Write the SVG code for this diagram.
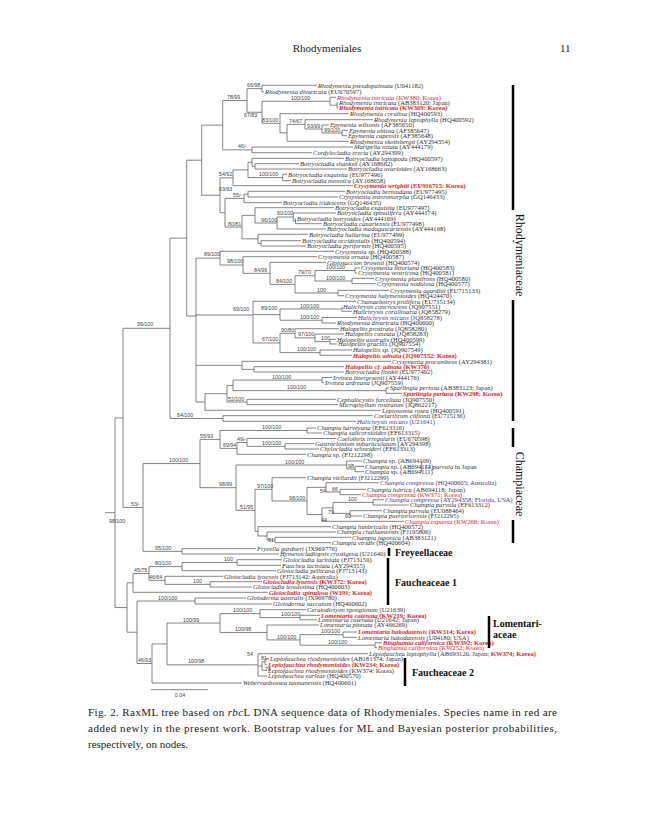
<svg xmlns="http://www.w3.org/2000/svg" width="646" height="830" viewBox="0 0 646 830">
<style>
.bg{fill:#fff}
.br{fill:none;stroke:#666;stroke-width:0.8}
.bar{stroke:#000;stroke-width:2.5}
.t{font-family:"Liberation Serif",serif;font-size:6.6px;font-style:italic;fill:#333}
.u{font-style:normal}
.r{fill:#e41e26}
.rb{fill:#e41e26;font-weight:bold}
.bl{fill:#3c3c9c}
.n{font-family:"Liberation Sans",sans-serif;font-size:5.3px;fill:#444}
.fam{font-family:"Liberation Serif",serif;font-weight:bold;font-size:10px;fill:#111}
.famv{font-family:"Liberation Serif",serif;font-size:12px;fill:#111}
.hd{font-family:"Liberation Serif",serif;font-size:11px;fill:#222}
.cap{font-family:"Liberation Serif",serif;font-size:11px;fill:#222}
</style>
<rect class="bg" x="0" y="0" width="646" height="830"/>
<g id="header">
<text class="hd" x="327" y="52" text-anchor="middle">Rhodymeniales</text>
<text class="hd" x="560" y="52" font-size="12">11</text>
</g>
<g id="connectors">
<path class="br" d="M262 85.3V92M262 85.3H317M262 92H264
M337 102.7V107.7M337 102.7H338M337 107.7H338
M330 97.3V105.2M330 97.3H336M330 105.2H337
M342 130.3V135.7M342 130.3H348M342 135.7H347
M322 125V133M322 125H329M322 133H342
M305 119.7V129M305 119.7H373M305 129H322
M287 124.35V141.3M287 124.35H305M287 141.3H349
M280 113.7V132.83M280 113.7H349M280 132.83H287
M262 101.25V123.27M262 101.25H330M262 123.27H280
M247 88.65V112.26M247 88.65H262M247 112.26H262
M252 147V152.7M252 147H353M252 152.7H312
M222.7 100.46V149.85M222.7 100.46H247M222.7 149.85H252
M255 163.7V169M255 163.7H299M255 169H347
M252 158.3V166.35M252 158.3H344M252 166.35H255
M282.7 174.3V180.7M282.7 174.3H287M282.7 180.7H291
M248 162.33V177.5M248 162.33H252M248 177.5H282.7
M233 169.9V185.7M233 169.9H248M233 185.7H353
M248 191.3V197M248 191.3H345M248 197H338
M244 194.15V202.7M244 194.15H248M244 202.7H282
M295.5 218.3V223.7M295.5 223.7H322
M293.3 213V221M293.3 213H336M293.3 221H295.5
M277 217V229M277 217H293.3M277 229H326
M255 207.7V223M255 207.7H334M255 223H277
M261 240.7V246M261 240.7H301M261 246H306
M258 234.3V243.35M258 234.3H308M258 243.35H261
M242 215.35V238.83M242 215.35H255M242 238.83H258
M225 198.4V227.09M225 198.4H244M225 227.09H242
M220 177.8V212.75M220 177.8H233M220 212.75H225
M201.7 125.15V195.28M201.7 125.15H222.7M201.7 195.28H220
M355 268V273M355 268H360M355 273H357
M352 278.3V283.7M352 278.3H374M352 283.7H376
M315 270.5V281M315 270.5H355M315 281H352
M338 290.3V295.7M338 290.3H389M338 295.7H344
M295 275.75V293M295 275.75H315M295 293H338
M270 262.3V284.38M270 262.3H326M270 284.38H295
M243 256.7V273.34M243 256.7H317M243 273.34H270
M220 251.3V265M220 251.3H334M220 265H243
M342 306.7V311.3M342 311.3H352
M322 317.5V323M322 317.5H357M322 323H336
M280 309V320.25M280 309H342M280 320.25H322
M253 301.3V342.96M253 301.3H356M253 314.63H280M253 342.96H280
M330 339.3V344M330 339.3H336M330 344H337
M315 334V341.65M315 334H344M315 341.65H330
M295 328.7V337.83M295 328.7H339M295 337.83H315
M320 350V355.3M320 350H352M320 355.3H352
M280 333.26V352.65M280 333.26H295M280 352.65H320
M254 366.7V372M254 366.7H344M254 372H344
M242 361.3V369.35M242 361.3H391M242 369.35H254
M322 377.5V382.7M322 377.5H332M322 382.7H324
M386 388V393.3M386 388H389M386 393.3H402
M233 380.1V390.65M233 380.1H322M233 390.65H386
M247 399.3V404.7M247 399.3H336M247 404.7H338
M227 385.38V402M227 385.38H233M227 402H247
M205 393.69V410.3M205 393.69H227M205 410.3H381
M196 258.15V402M196 258.15H220M196 315H253M196 365.33H242M196 402H205
M223 415.7V421.3M223 415.7H373M223 421.3H356
M186.7 160.2V316M186.7 160.2H201.7M186.7 316H196
M170 238.1V418.5M170 238.1H186.7M170 418.5H223
M307 428V433M307 428H316M307 433H322
M285 443.7V449M285 443.7H314M285 449H319
M247 438.5V446.35M247 438.5H336M247 446.35H285
M237 442.43V454.3M237 442.43H247M237 454.3H306
M220 430.5V448.36M220 430.5H307M220 448.36H237
M355 466.3V471.7M355 466.3H364M355 471.7H364
M346.7 461V469M346.7 461H362M346.7 469H355
M340 489.3V494.7M340 489.3H366M340 494.7H361
M326 482.7V492M326 482.7H379M326 492H340
M373 499.8V505M373 499.8H384M373 505H409
M350 510.7V516M350 510.7H382M350 516H362
M333 502.4V513.35M333 502.4H373M333 513.35H350
M322 507.88V521.3M322 507.88H333M322 521.3H404
M307 487.35V514.59M307 487.35H326M307 514.59H322
M272 477.7V500.97M272 477.7H306M272 500.97H307
M275 537.3V542.7M275 537.3H351M275 542.7H331
M267 532V540M267 532H336M267 540H275
M258 526.7V536M258 526.7H331M258 536H267
M255 489.34V531.35M255 489.34H272M255 531.35H258
M236 465V510.35M236 465H346.7M236 510.35H255
M200 439.43V487.68M200 439.43H220M200 487.68H236
M182 548.7V554M182 548.7H256M182 554H279
M143 463.56V551.35M143 463.56H200M143 551.35H182
M123 328.3V507.46M123 328.3H170M123 507.46H143
M237 559.7V565.3M237 559.7H282M237 565.3H281
M182 562.5V570.7M182 562.5H237M182 570.7H276
M210 581.7V587M210 581.7H262M210 587H252
M165 576.3V584.35M165 576.3H223M165 584.35H210
M149 566.6V580.33M149 566.6H182M149 580.33H165
M133 573.47V592.3M133 573.47H149M133 592.3H268
M195 598V604M195 598H246M195 604H272
M300 615.3V619.8M300 615.3H320M300 619.8H317
M260 609.7V617.55M260 609.7H306M260 617.55H300
M343 632V637.3M343 632H357M343 637.3H357
M375 642.7V647.7M375 642.7H382M375 647.7H377
M300 634.65V645.2M300 634.65H343M300 645.2H375
M267 625V639.93M267 625H319M267 639.93H300
M220 613.63V632.46M220 613.63H260M220 632.46H267
M265 658.7V664.7M265 658.7H269M265 664.7H267
M262 661.7V670.3M262 661.7H265M262 670.3H267
M258 653.7V676M258 653.7H368M258 666H262M258 676H267
M167 623.05V664.85M167 623.05H220M167 664.85H258
M152 643.95V683M152 643.95H167M152 683H242
M137 601V663.48M137 601H195M137 663.48H152
M127 582.88V632.24M127 582.88H133M127 632.24H137
M115 417.9V607.56M115 417.9H123M115 607.56H127
M105 512.7H115
M421.7 461V472"/>
<path class="br" d="M151 689.7H208" stroke-width="1"/>
</g>
<g id="support">
<text class="n" x="247" y="87">66/98</text>
<text class="n" x="227" y="99">78/99</text>
<text class="n" x="291" y="99.5">100/100</text>
<text class="n" x="244" y="117">67/83</text>
<text class="n" x="262" y="121.5">83/100</text>
<text class="n" x="289" y="122.5">74/67</text>
<text class="n" x="307" y="127.5">93/99</text>
<text class="n" x="324" y="131.5">99/100</text>
<text class="n" x="238" y="148">46/-</text>
<text class="n" x="219" y="176">54/92</text>
<text class="n" x="259" y="176">100/100</text>
<text class="n" x="219" y="191">63/93</text>
<text class="n" x="233" y="197">55/-</text>
<text class="n" x="277" y="215">60/100</text>
<text class="n" x="261" y="221.5">96/100</text>
<text class="n" x="228" y="225.5">80/81</text>
<text class="n" x="204" y="256">89/100</text>
<text class="n" x="227" y="263">98/100</text>
<text class="n" x="254" y="272">84/96</text>
<text class="n" x="298" y="274">79/70</text>
<text class="n" x="326" y="269">100/100</text>
<text class="n" x="276" y="283">84/100</text>
<text class="n" x="326" y="279.5">100/100</text>
<text class="n" x="317" y="291.5">100</text>
<text class="n" x="233" y="311">69/100</text>
<text class="n" x="261" y="310">89/100</text>
<text class="n" x="300" y="307.5">100/100</text>
<text class="n" x="300" y="319">100/100</text>
<text class="n" x="137" y="326">99/100</text>
<text class="n" x="281" y="331.5">90/80</text>
<text class="n" x="298" y="336">97/100</text>
<text class="n" x="262" y="341">67/100</text>
<text class="n" x="321" y="340">100</text>
<text class="n" x="297" y="351">100/100</text>
<text class="n" x="272" y="378.5">100/100</text>
<text class="n" x="287" y="389">100/100</text>
<text class="n" x="228" y="400.5">52/100</text>
<text class="n" x="177" y="417">64/100</text>
<text class="n" x="262" y="429">100/100</text>
<text class="n" x="200" y="437.5">55/93</text>
<text class="n" x="237" y="441">49/-</text>
<text class="n" x="223" y="446.5">69/94</text>
<text class="n" x="262" y="444.5">100/100</text>
<text class="n" x="169" y="462">100/100</text>
<text class="n" x="285" y="463.5">100/100</text>
<text class="n" x="348" y="467.5">98</text>
<text class="n" x="219" y="486">98/99</text>
<text class="n" x="257" y="487.5">97/100</text>
<text class="n" x="320" y="493">54</text>
<text class="n" x="332" y="490.5">66</text>
<text class="n" x="289" y="499.5">98/100</text>
<text class="n" x="348" y="500.5">100</text>
<text class="n" x="131" y="506">53/-</text>
<text class="n" x="240" y="508.5">51/95</text>
<text class="n" x="328" y="514">79</text>
<text class="n" x="345" y="517.5">60</text>
<text class="n" x="321" y="522">44</text>
<text class="n" x="109" y="523">98/100</text>
<text class="n" x="268" y="542">51</text>
<text class="n" x="155" y="549.5">95/100</text>
<text class="n" x="224" y="560.5">100</text>
<text class="n" x="155" y="564.5">80/100</text>
<text class="n" x="134" y="571.5">45/75</text>
<text class="n" x="149" y="578.5">46/64</text>
<text class="n" x="193" y="582.5">100</text>
<text class="n" x="158" y="599.5">100/100</text>
<text class="n" x="233" y="612">100/100</text>
<text class="n" x="281" y="616">100/100</text>
<text class="n" x="183" y="621.5">100/99</text>
<text class="n" x="235" y="631">100/98</text>
<text class="n" x="321" y="633">100/100</text>
<text class="n" x="277" y="638.5">100/100</text>
<text class="n" x="328" y="643.5">100/100</text>
<text class="n" x="247" y="656">54</text>
<text class="n" x="261" y="660">81</text>
<text class="n" x="138" y="662">46/93</text>
<text class="n" x="188" y="663.3">100/98</text>
<text class="n" x="265" y="671">78</text>
<text class="n" x="180" y="697" text-anchor="middle">0.04</text>
</g>
<g id="leaf001"><text class="t" x="318" y="87.5">Rhodymenia pseudopalmata <tspan class="u">(U041182)</tspan></text></g>
<g id="leaf002"><text class="t" x="265" y="94.2">Rhodymenia divaricata <tspan class="u">(EU670597)</tspan></text></g>
<g id="leaf003"><text class="t r" x="337" y="99.5">Rhodymenia intricata <tspan class="u">(KW380: Korea)</tspan></text></g>
<g id="leaf004"><text class="t" x="339" y="104.9">Rhodymenia intricata <tspan class="u">(AB383120; Japan)</tspan></text></g>
<g id="leaf005"><text class="t rb" x="339" y="109.9">Rhodymenia intricata <tspan class="u">(KW369: Korea)</tspan></text></g>
<g id="leaf006"><text class="t" x="350" y="115.9">Rhodymenia coralina <tspan class="u">(HQ400593)</tspan></text></g>
<g id="leaf007"><text class="t" x="374" y="121.9">Rhodymenia leptophylla <tspan class="u">(HQ400592)</tspan></text></g>
<g id="leaf008"><text class="t" x="330" y="127.2">Epymenia wilsonis <tspan class="u">(AF385650)</tspan></text></g>
<g id="leaf009"><text class="t" x="349" y="132.5">Epymenia obtusa <tspan class="u">(AF385647)</tspan></text></g>
<g id="leaf010"><text class="t" x="348" y="137.9">Epymenia capensis <tspan class="u">(AF385648)</tspan></text></g>
<g id="leaf011"><text class="t" x="350" y="143.5">Rhodymenia skottsbergii <tspan class="u">(AY294354)</tspan></text></g>
<g id="leaf012"><text class="t" x="354" y="149.2">Maripelta rotata <tspan class="u">(AY444179)</tspan></text></g>
<g id="leaf013"><text class="t" x="313" y="154.9">Cordylecladia erecta <tspan class="u">(AY294399)</tspan></text></g>
<g id="leaf014"><text class="t" x="345" y="160.5">Botryocladia leptopoda <tspan class="u">(HQ400597)</tspan></text></g>
<g id="leaf015"><text class="t" x="300" y="165.9">Botryocladia shanksii <tspan class="u">(AY168662)</tspan></text></g>
<g id="leaf016"><text class="t" x="348" y="171.2">Botryocladia uvarioides <tspan class="u">(AY168663)</tspan></text></g>
<g id="leaf017"><text class="t" x="288" y="176.5">Botryocladia exquisita <tspan class="u">(EU977496)</tspan></text></g>
<g id="leaf018"><text class="t" x="292" y="182.9">Botryocladia monoica <tspan class="u">(AY168658)</tspan></text></g>
<g id="leaf019"><text class="t rb" x="354" y="187.9">Crysymenia wrightii <tspan class="u">(EU916715: Korea)</tspan></text></g>
<g id="leaf020"><text class="t" x="346" y="193.5">Botryocladia bermudana <tspan class="u">(EU977495)</tspan></text></g>
<g id="leaf021"><text class="t" x="339" y="199.2">Crysymenia enteromorpha <tspan class="u">(GQ146433)</tspan></text></g>
<g id="leaf022"><text class="t" x="283" y="204.9">Botryocladia iridescens <tspan class="u">(GQ146435)</tspan></text></g>
<g id="leaf023"><text class="t" x="335" y="209.9">Botryocladia exquisita <tspan class="u">(EU977497)</tspan></text></g>
<g id="leaf024"><text class="t" x="337" y="215.2">Botryocladia spinulifera <tspan class="u">(AY444174)</tspan></text></g>
<g id="leaf025"><text class="t" x="297" y="220.5">Botryocladia botryoides <tspan class="u">(AY444169)</tspan></text></g>
<g id="leaf026"><text class="t" x="323" y="225.9">Botryocladia canariensis <tspan class="u">(EU977498)</tspan></text></g>
<g id="leaf027"><text class="t" x="327" y="231.2">Botryocladia madagascariensis <tspan class="u">(AY444168)</tspan></text></g>
<g id="leaf028"><text class="t" x="309" y="236.5">Botryocladia hailarina <tspan class="u">(EU977499)</tspan></text></g>
<g id="leaf029"><text class="t" x="302" y="242.9">Botryocladia occidentalis <tspan class="u">(HQ400594)</tspan></text></g>
<g id="leaf030"><text class="t" x="307" y="248.2">Botryocladia pyriformis <tspan class="u">(HQ400595)</tspan></text></g>
<g id="leaf031"><text class="t" x="335" y="253.5">Crysymenia sp. <tspan class="u">(HQ400588)</tspan></text></g>
<g id="leaf032"><text class="t" x="318" y="258.9">Crysymenia ornata <tspan class="u">(HQ400587)</tspan></text></g>
<g id="leaf033"><text class="t" x="327" y="264.5">Gloiosaccion brownii <tspan class="u">(HQ400574)</tspan></text></g>
<g id="leaf034"><text class="t" x="361" y="270.2">Crysymenia littoriana <tspan class="u">(HQ400583)</tspan></text></g>
<g id="leaf035"><text class="t" x="358" y="275.2">Crysymenia ventricosa <tspan class="u">(HQ400581)</tspan></text></g>
<g id="leaf036"><text class="t" x="375" y="280.5">Crysymenia planifrons <tspan class="u">(HQ400580)</tspan></text></g>
<g id="leaf037"><text class="t" x="377" y="285.9">Crysymenia nodulosa <tspan class="u">(HQ400577)</tspan></text></g>
<g id="leaf038"><text class="t" x="390" y="292.5">Crysymenia agardhii <tspan class="u">(EU715133)</tspan></text></g>
<g id="leaf039"><text class="t" x="345" y="297.9">Crysymenia halymenioides <tspan class="u">(HQ424470)</tspan></text></g>
<g id="leaf040"><text class="t" x="357" y="303.5">Chamaebotrys prolifera <tspan class="u">(EU715134)</tspan></text></g>
<g id="leaf041"><text class="t" x="343" y="308.9">Halichrysis concrescens <tspan class="u">(JQ907551)</tspan></text></g>
<g id="leaf042"><text class="t" x="353" y="313.5">Halichrysis corallinaria <tspan class="u">(JQ858279)</tspan></text></g>
<g id="leaf043"><text class="t bl" x="358" y="319.7">Halichrysis micans <tspan class="u">(JQ858278)</tspan></text></g>
<g id="leaf044"><text class="t" x="337" y="325.2">Rhodymenia divaricata <tspan class="u">(HQ400600)</tspan></text></g>
<g id="leaf045"><text class="t" x="340" y="330.9">Halopeltis prostrata <tspan class="u">(JQ858280)</tspan></text></g>
<g id="leaf046"><text class="t" x="345" y="336.2">Halopeltis cuneata <tspan class="u">(JQ858283)</tspan></text></g>
<g id="leaf047"><text class="t" x="337" y="341.5">Halopeltis australis <tspan class="u">(HQ400599)</tspan></text></g>
<g id="leaf048"><text class="t" x="338" y="346.2">Halopeltis gracilis <tspan class="u">(JQ907554)</tspan></text></g>
<g id="leaf049"><text class="t" x="353" y="352.2">Halopeltis sp. <tspan class="u">(JQ907549)</tspan></text></g>
<g id="leaf050"><text class="t rb" x="353" y="357.5">Halopeltis adnata <tspan class="u">(JQ907552: Korea)</tspan></text></g>
<g id="leaf051"><text class="t" x="392" y="363.5">Crysymenia procumbens <tspan class="u">(AY294381)</tspan></text></g>
<g id="leaf052"><text class="t rb" x="345" y="368.9">Halopeltis cf. adnata <tspan class="u">(KW376)</tspan></text></g>
<g id="leaf053"><text class="t" x="345" y="374.2">Botryocladia flookii <tspan class="u">(EU977492)</tspan></text></g>
<g id="leaf054"><text class="t" x="333" y="379.7">Irvinea boergesenii <tspan class="u">(AY444176)</tspan></text></g>
<g id="leaf055"><text class="t" x="325" y="384.9">Irvinea ardreana <tspan class="u">(JQ907559)</tspan></text></g>
<g id="leaf056"><text class="t" x="390" y="390.2">Sparlingia pertusa <tspan class="u">(AB383123; Japan)</tspan></text></g>
<g id="leaf057"><text class="t rb" x="403" y="395.5">Sparlingia pertusa <tspan class="u">(KW298; Korea)</tspan></text></g>
<g id="leaf058"><text class="t" x="337" y="401.5">Cephalocystis furcellata <tspan class="u">(JQ907550)</tspan></text></g>
<g id="leaf059"><text class="t" x="339" y="406.9">Microphyllum rostratum <tspan class="u">(JQ862217)</tspan></text></g>
<g id="leaf060"><text class="t" x="382" y="412.5">Leptosomia rosea <tspan class="u">(HQ400591)</tspan></text></g>
<g id="leaf061"><text class="t" x="374" y="417.9">Coelarthrum cliftonii <tspan class="u">(EU715136)</tspan></text></g>
<g id="leaf062"><text class="t bl" x="357" y="423.5">Halichrysis micans <tspan class="u">(U21641)</tspan></text></g>
<g id="leaf063"><text class="t" x="317" y="430.2">Champia harveyana <tspan class="u">(EF613316)</tspan></text></g>
<g id="leaf064"><text class="t" x="323" y="435.2">Champia salicornioides <tspan class="u">(EF613315)</tspan></text></g>
<g id="leaf065"><text class="t" x="337" y="440.7">Coelothrix irregularis <tspan class="u">(EU670598)</tspan></text></g>
<g id="leaf066"><text class="t" x="315" y="445.9">Gastroclonium subarticulatum <tspan class="u">(AY294398)</tspan></text></g>
<g id="leaf067"><text class="t" x="320" y="451.2">Chylocladia schneideri <tspan class="u">(EF613313)</tspan></text></g>
<g id="leaf068"><text class="t" x="307" y="456.5">Champia <tspan class="u">sp. (FJ212298)</tspan></text></g>
<g id="leaf069"><text class="t" x="363" y="463.2">Champia <tspan class="u">sp. (AB694109)</tspan></text></g>
<g id="leaf070"><text class="t" x="365" y="468.5">Champia <tspan class="u">sp. (AB694114)</tspan></text></g>
<g id="leaf071"><text class="t" x="365" y="473.9">Champia <tspan class="u">sp. (AB694111)</tspan></text></g>
<g id="note-parvula"><text class="t" x="425" y="469" font-size="7.5">C. parvula <tspan class="u">in Japan</tspan></text></g>
<g id="leaf072"><text class="t" x="307" y="479.9">Champia viellardii <tspan class="u">(FJ212299)</tspan></text></g>
<g id="leaf073"><text class="t bl" x="380" y="484.9">Champia compressa <tspan class="u">(HQ400605; Australia)</tspan></text></g>
<g id="leaf074"><text class="t" x="367" y="491.5">Champia lubrica <tspan class="u">(AB694118; Japan)</tspan></text></g>
<g id="leaf075"><text class="t r" x="362" y="496.9">Champia compressa <tspan class="u">(KW371; Korea)</tspan></text></g>
<g id="leaf076"><text class="t bl" x="385" y="502">Champia compressa <tspan class="u">(AY294358; Florida, USA)</tspan></text></g>
<g id="leaf077"><text class="t" x="410" y="507.2">Champia parvula <tspan class="u">(EF613312)</tspan></text></g>
<g id="leaf078"><text class="t" x="383" y="512.9">Champia parvula <tspan class="u">(EU088464)</tspan></text></g>
<g id="leaf079"><text class="t" x="363" y="518.2">Champia puertoricensis <tspan class="u">(FJ212295)</tspan></text></g>
<g id="leaf080"><text class="t r" x="405" y="523.5">Champia expansa <tspan class="u">(KW266; Korea)</tspan></text></g>
<g id="leaf081"><text class="t" x="332" y="528.9">Champia lumbricalis <tspan class="u">(HQ400572)</tspan></text></g>
<g id="leaf082"><text class="t" x="337" y="534.2">Champia chathamensis <tspan class="u">(FJ195806)</tspan></text></g>
<g id="leaf083"><text class="t" x="352" y="539.5">Champia japonica <tspan class="u">(AB383121)</tspan></text></g>
<g id="leaf084"><text class="t" x="332" y="544.9">Champia viridis <tspan class="u">(HQ400604)</tspan></text></g>
<g id="leaf085"><text class="t" x="257" y="550.9">Fryeella gardneri <tspan class="u">(JX969776)</tspan></text></g>
<g id="leaf086"><text class="t" x="280" y="556.2">Hymenocladiopsis crustigena <tspan class="u">(U21640)</tspan></text></g>
<g id="leaf087"><text class="t" x="283" y="561.9">Gloiocladia laciniata <tspan class="u">(FJ713150)</tspan></text></g>
<g id="leaf088"><text class="t" x="282" y="567.5">Fauchea laciniata <tspan class="u">(AY294355)</tspan></text></g>
<g id="leaf089"><text class="t" x="277" y="572.9">Gloiocladia pellicana <tspan class="u">(FJ713143)</tspan></text></g>
<g id="leaf090"><text class="t" x="224" y="578.5">Gloiocladia iyoensis <tspan class="u">(FJ713142: Australia)</tspan></text></g>
<g id="leaf091"><text class="t rb" x="263" y="583.9">Gloiocladia iyoensis <tspan class="u">(KW372: Korea)</tspan></text></g>
<g id="leaf092"><text class="t" x="253" y="589.2">Gloiocladia tenuissima <tspan class="u">(HQ400603)</tspan></text></g>
<g id="leaf093"><text class="t rb" x="269" y="594.5">Gloiocladia spinulosa <tspan class="u">(W391; Korea)</tspan></text></g>
<g id="leaf094"><text class="t" x="247" y="600.2">Gloioderma australis <tspan class="u">(JX969780)</tspan></text></g>
<g id="leaf095"><text class="t" x="273" y="606.2">Gloioderma saccatum <tspan class="u">(HQ400602)</tspan></text></g>
<g id="leaf096"><text class="t" x="307" y="611.9">Ceratodictyon spongiosum <tspan class="u">(U21639)</tspan></text></g>
<g id="leaf097"><text class="t rb" x="321" y="617.5">Lomentaria catenata <tspan class="u">(KW219; Korea)</tspan></text></g>
<g id="leaf098"><text class="t" x="318" y="622">Lomentaria catenata <tspan class="u">(U21642; Japan)</tspan></text></g>
<g id="leaf099"><text class="t" x="320" y="627.2">Lomentaria pinnata <tspan class="u">(AY466269)</tspan></text></g>
<g id="leaf100"><text class="t rb" x="358" y="634.2">Lomentaria hakodatensis <tspan class="u">(KW314; Korea)</tspan></text></g>
<g id="leaf101"><text class="t" x="358" y="639.5">Lomentaria hakodatensis <tspan class="u">(U04180; USA)</tspan></text></g>
<g id="leaf102"><text class="t rb" x="383" y="644.9">Binghamia californica <tspan class="u">(KW392; Korea)</tspan></text></g>
<g id="leaf103"><text class="t r" x="378" y="649.9">Binghamia californica <tspan class="u">(KW252; Korea)</tspan></text></g>
<g id="leaf104"><text class="t" x="369" y="655.9">Leptofauchea leptophylla <tspan class="u">(AB693120, Japan; </tspan><tspan class="u rb">KW374; Korea)</tspan></text></g>
<g id="leaf105"><text class="t" x="270" y="660.9">Leptofauchea rhodymenioides <tspan class="u">(AB181374: Japan)</tspan></text></g>
<g id="leaf106"><text class="t rb" x="268" y="666.9">Leptofauchea rhodymenioides <tspan class="u">(KW234; Korea)</tspan></text></g>
<g id="leaf107"><text class="t" x="268" y="672.5">Leptofauchea rhodymenioides <tspan class="u">(KW374: Korea)</tspan></text></g>
<g id="leaf108"><text class="t" x="268" y="678.2">Leptofauchea earleae <tspan class="u">(HQ400570)</tspan></text></g>
<g id="leaf109"><text class="t" x="243" y="685.2">Webervanbossea tasmanensis <tspan class="u">(HQ400601)</tspan></text></g>
<g id="fam-rhodymeniaceae">
<path class="bar" d="M513 85V210M513 300V421"/>
<text class="famv" transform="translate(516,255) rotate(90)" text-anchor="middle">Rhodymeniaceae</text>
</g>
<g id="fam-champiaceae">
<path class="bar" d="M513 428V447M513 520V543"/>
<text class="famv" transform="translate(516,484) rotate(90)" text-anchor="middle">Champiaceae</text>
</g>
<g id="fam-freyeellaceae">
<path class="bar" d="M389 548V556" stroke-width="2"/>
<text class="fam" x="395" y="556">Freyeellaceae</text>
</g>
<g id="fam-faucheaceae1">
<path class="bar" d="M388 558V605"/>
<text class="fam" x="395" y="585.5">Faucheaceae 1</text>
</g>
<g id="fam-lomentariaceae">
<path class="bar" d="M489 616V648"/>
<text class="fam" x="493" y="626.5">Lomentari-</text>
<text class="fam" x="493" y="637.5">aceae</text>
</g>
<g id="fam-faucheaceae2">
<path class="bar" d="M405 658V686"/>
<text class="fam" x="412" y="675.5">Faucheaceae 2</text>
</g>
<g id="caption">
<text class="cap" x="88" y="716" textLength="469" lengthAdjust="spacing">Fig. 2. RaxML tree based on <tspan font-style="italic">rbc</tspan>L DNA sequence data of Rhodymeniales. Species name in red are</text>
<text class="cap" x="88" y="732" textLength="469" lengthAdjust="spacing">added newly in the present work. Bootstrap values for ML and Bayesian posterior probabilities,</text>
<text class="cap" x="88" y="748">respectively, on nodes.</text>
</g>
</svg>
